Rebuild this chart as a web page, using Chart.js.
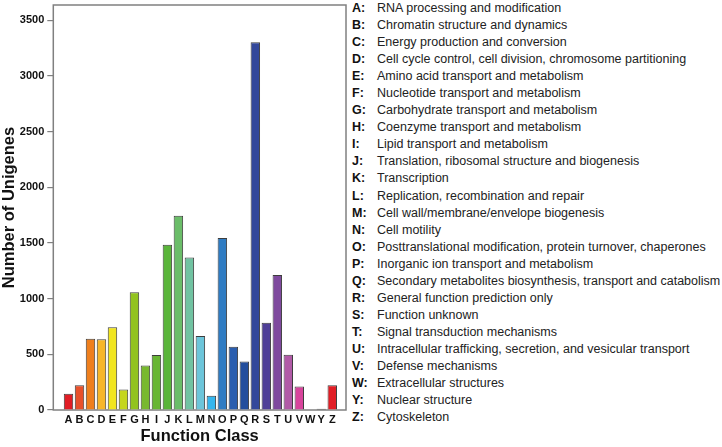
<!DOCTYPE html>
<html>
<head>
<meta charset="utf-8">
<script src="https://cdn.jsdelivr.net/npm/chart.js@4.4.1/dist/chart.umd.min.js"></script>
<style>
  html, body { margin: 0; padding: 0; background: #fff; }
  #wrap { position: relative; width: 722px; height: 447px; overflow: hidden; }
  #c { position: absolute; left: 0; top: 0; }
  #legend { position: absolute; left: 352px; top: 0px; font-family: "Liberation Sans", Arial, sans-serif;
            font-size: 12.5px; color: #222; line-height: 17.05px; }
  #legend .row { display: flex; white-space: nowrap; }
  #legend .k { width: 25px; font-weight: bold; color: #111; }
</style>
</head>
<body>
<div id="wrap">
  <canvas id="c" width="350" height="447"></canvas>
  <div id="legend"></div>
</div>
<script>
const categories = ['A','B','C','D','E','F','G','H','I','J','K','L','M','N','O','P','Q','R','S','T','U','V','W','Y','Z'];
const counts = [146, 222, 640, 635, 742, 185, 1057, 400, 494, 1484, 1745, 1370, 665, 128, 1545, 568, 436, 3302, 784, 1212, 496, 212, 0, 12, 223];
const descriptions = [
  'RNA processing and modification',
  'Chromatin structure and dynamics',
  'Energy production and conversion',
  'Cell cycle control, cell division, chromosome partitioning',
  'Amino acid transport and metabolism',
  'Nucleotide transport and metabolism',
  'Carbohydrate transport and metabolism',
  'Coenzyme transport and metabolism',
  'Lipid transport and metabolism',
  'Translation, ribosomal structure and biogenesis',
  'Transcription',
  'Replication, recombination and repair',
  'Cell wall/membrane/envelope biogenesis',
  'Cell motility',
  'Posttranslational modification, protein turnover, chaperones',
  'Inorganic ion transport and metabolism',
  'Secondary metabolites biosynthesis, transport and catabolism',
  'General function prediction only',
  'Function unknown',
  'Signal transduction mechanisms',
  'Intracellular trafficking, secretion, and vesicular transport',
  'Defense mechanisms',
  'Extracellular structures',
  'Nuclear structure',
  'Cytoskeleton'
];
const yTicks = [0, 500, 1000, 1500, 2000, 2500, 3000, 3500];
const barColors = ['#e11d25','#e8502b','#ef7f1d','#f7b62a','#f1e51f','#c5d61c','#92c31f','#78b92f','#68b634','#5ab53a',
                   '#6bbd69','#71c3a2','#6cc5da','#35b6ee','#2f7cc3','#2a5eaf','#234e9d','#33489b','#4f3f98','#7f4a9e',
                   '#b15aa7','#d8449c','#555555','#333333','#e11d25'];

// legend (real text)
const leg = document.getElementById('legend');
categories.forEach((c, i) => {
  const r = document.createElement('div'); r.className = 'row';
  const k = document.createElement('span'); k.className = 'k'; k.textContent = c + ':';
  const d = document.createElement('span'); d.textContent = descriptions[i];
  r.appendChild(k); r.appendChild(d); leg.appendChild(r);
});

const frame = {
  id: 'frame',
  beforeDatasetsDraw(chart) {
    const {ctx, chartArea: a} = chart;
    ctx.save();
    ctx.strokeStyle = '#808080';
    ctx.lineWidth = 1.5;
    ctx.strokeRect(a.left, a.top, a.right - a.left, a.bottom - a.top);
    ctx.restore();
  }
};

const FONT = '"Liberation Sans", Arial, sans-serif';
new Chart(document.getElementById('c'), {
  type: 'bar',
  data: {
    datasets: [{
      data: categories.map((c, i) => ({x: i, y: counts[i]})),
      backgroundColor: barColors,
      borderColor: '#3d3d3d',
      borderWidth: 1,
      barPercentage: 0.86,
      categoryPercentage: 1
    }]
  },
  options: {
    responsive: false,
    animation: false,
    layout: { padding: { top: 5, right: 4, left: 0, bottom: 0 } },
    plugins: { legend: { display: false }, tooltip: { enabled: false } },
    scales: {
      x: {
        type: 'linear',
        offset: false,
        min: -1.384, max: 25.25,
        grid: { display: false, drawTicks: false },
        border: { display: false },
        ticks: {
          stepSize: 1, autoSkip: false, maxRotation: 0, includeBounds: false, maxTicksLimit: 100,
          padding: 3, color: '#111',
          font: { family: FONT, size: 11, weight: 'bold' },
          callback: (v) => (Number.isInteger(v) && categories[v]) ? categories[v] : ''
        },
        title: { display: true, text: 'Function Class', color: '#111',
                 font: { family: FONT, size: 16.5, weight: 'bold' }, padding: { top: 0, bottom: 1 } },
        afterFit: (s) => { s.height = 37; s.paddingLeft = 0; s.paddingRight = 0; }
      },
      y: {
        min: 0, max: 3637,
        grid: { drawOnChartArea: false, drawTicks: true, tickLength: 6, color: '#808080', lineWidth: 1.2 },
        border: { display: false },
        afterBuildTicks: (s) => { s.ticks = yTicks.map(v => ({value: v})); },
        ticks: { padding: 3, color: '#111', font: { family: FONT, size: 11, weight: 'bold' },
                 callback: (v) => String(v) },
        title: { display: true, text: 'Number of Unigenes', color: '#111',
                 font: { family: FONT, size: 16.5, weight: 'bold' }, padding: { top: 0, bottom: 0 } },
        afterFit: (s) => { s.width = 53.3; s.paddingTop = 0; s.paddingBottom = 0; }
      }
    }
  },
  plugins: [frame]
});
</script>
</body>
</html>
